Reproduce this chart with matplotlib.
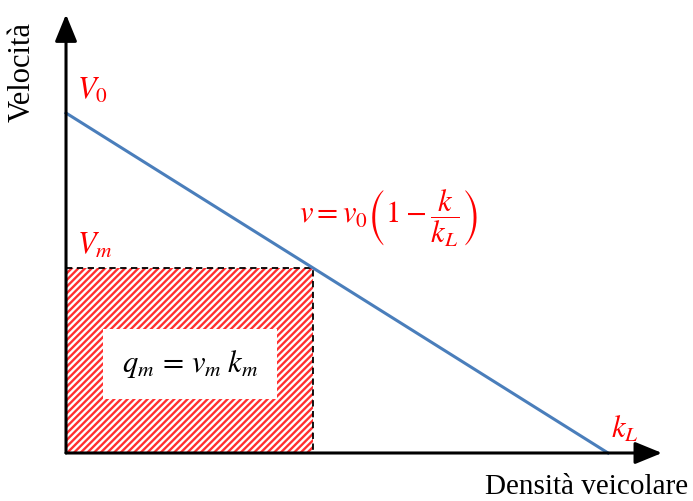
import matplotlib
matplotlib.use("Agg")
import matplotlib.pyplot as plt
from matplotlib.patches import Rectangle, FancyArrowPatch

plt.rcParams['mathtext.fontset'] = 'stix'
plt.rcParams['hatch.linewidth'] = 1.7

# Greenshields model (normalised units)
v0 = 1.0          # free-flow speed
k_jam = 1.0       # jam density
k_m = 0.456       # critical density
v_m = v0 * (1 - k_m / k_jam)

density = [0.0, k_jam]
speed = [v0 * (1 - k / k_jam) for k in density]

fig = plt.figure(figsize=(6.93, 5.01), dpi=100)
ax = fig.add_axes([0, 0, 1, 1])
ax.set_xlim(-0.1218, 1.1568)
ax.set_ylim(-0.1412, 1.3324)
ax.axis('off')

# hatched area of maximum flow
ax.add_patch(Rectangle((0, 0), k_m, v_m, facecolor='white', edgecolor='#ff3030',
                       hatch='/////', linewidth=0, zorder=1))
ax.plot([0, k_m, k_m], [v_m, v_m, 0], color='black', lw=1.3,
        ls=(0, (3.5, 2.5)), zorder=3)

# speed-density line
ax.plot(density, speed, color='#4a7ebb', lw=2.2, zorder=4)

# axes with arrowheads
arrow_style = '-|>,head_length=1.1,head_width=0.45'
ax.add_patch(FancyArrowPatch((0, 0), (1.0996, 0), arrowstyle=arrow_style,
                             mutation_scale=15, color='black', lw=2.2,
                             shrinkA=0, shrinkB=0, zorder=5))
ax.add_patch(FancyArrowPatch((0, 0), (0, 1.29), arrowstyle=arrow_style,
                             mutation_scale=15, color='black', lw=2.2,
                             shrinkA=0, shrinkB=0, zorder=5))

serif = ['Liberation Serif', 'DejaVu Serif']
ax.text(-0.081, 1.12, 'Velocità', rotation=90, ha='center', va='center',
        fontsize=22, family=serif)
ax.text(1.148, -0.1, 'Densità veicolare', ha='right', va='center',
        fontsize=21, family=serif)

red = '#ff0000'
ax.text(0.020, v0 + 0.025, r'$V_0$', color=red, fontsize=22, ha='left', va='bottom')
ax.text(0.020, v_m + 0.025, r'$V_m$', color=red, fontsize=22, ha='left', va='bottom')
ax.text(k_jam + 0.006, 0.025, r'$k_L$', color=red, fontsize=22, ha='left', va='bottom')
ax.text(0.594, 0.692, r'$v = v_0\left(1 - \dfrac{k}{k_L}\right)$', color=red,
        fontsize=22, ha='center', va='center')

ax.text(0.229, 0.263, r'$q_m\, =\, v_m\; k_m$', color='black', fontsize=22,
        ha='center', va='center',
        bbox=dict(boxstyle='square,pad=0.62', facecolor='white', edgecolor='none'), zorder=6)

fig.savefig('out.png', dpi=100)
